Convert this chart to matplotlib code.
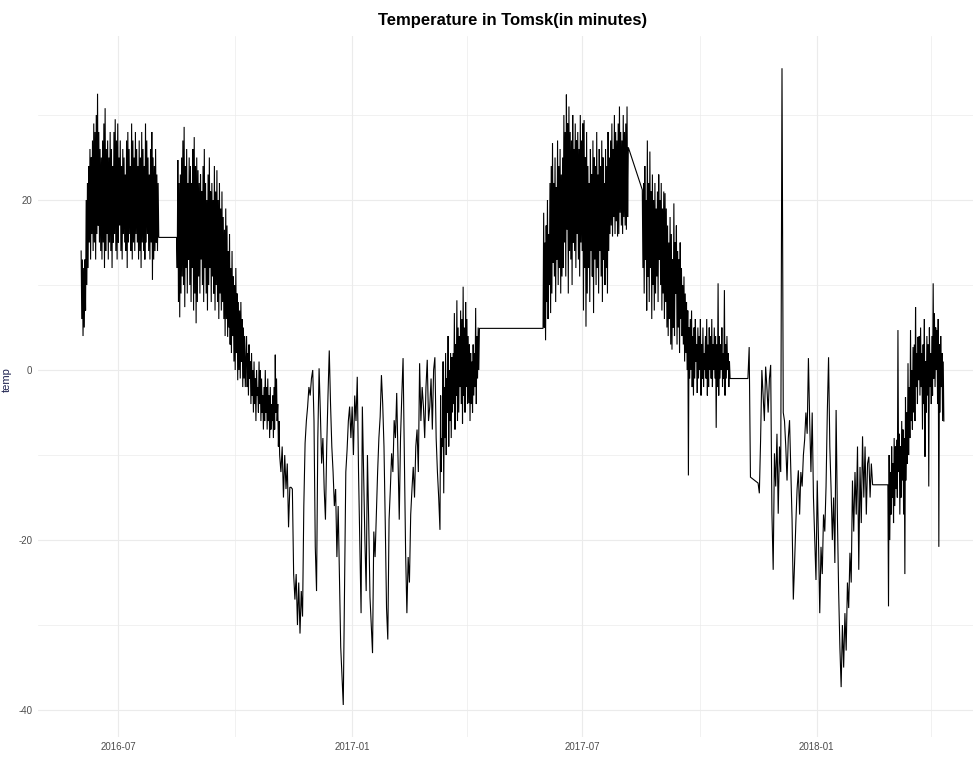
import numpy as np
import matplotlib
matplotlib.use("Agg")
import matplotlib.pyplot as plt
import matplotlib.dates as mdates

# ---- data ----
# dense periods: daily maximum / minimum readings
summer16_a_span = ("2016-06-02", "2016-08-02")
summer16_a_max = [14, 13, 12, 13, 20, 22, 24, 26, 25, 27, 29, 28, 30, 32.5, 28, 26,
                  25, 27, 29, 30.8, 26, 27, 25, 28, 26, 24, 28, 29.5, 27, 29, 25, 27, 24, 26,
                  25, 23, 27, 28, 26, 24, 29, 27, 25, 28, 26, 24, 27, 25, 28, 26, 24, 29, 27,
                  25, 23, 26, 28, 25, 24, 26, 23, 22]
summer16_a_min = [6, 4, 5, 7, 10, 12, 15, 13, 16, 14, 15, 13, 16, 17, 15, 14,
                  13, 15, 12, 14, 16, 13, 15, 14, 12, 15, 16, 14, 13, 15, 17, 14, 13, 16, 15,
                  14, 12, 15, 16, 14, 13, 15, 14, 16, 15, 13, 14, 12, 15, 14, 13, 15, 16, 14,
                  13, 15, 10.6, 13, 14, 15, 14, 15.6]

summer16_b_span = ("2016-08-16", "2016-10-09")
summer16_b_max = [15.6, 24.7, 22, 23, 25, 27, 28.6, 24, 26, 22, 25, 24, 22, 26, 27.4, 24, 25,
                  23.5, 22, 23, 21, 24, 26, 22, 20, 23, 25, 21, 22, 20, 24, 21, 23.5, 20, 22,
                  19, 21, 18, 16.5, 19, 17, 14, 16, 12, 14, 11, 10, 12, 9, 8, 7, 8, 6, 5, 4]
summer16_b_min = [12, 8, 6.2, 9, 11, 10, 7.4, 12, 9, 13, 10, 8, 12, 7, 9, 5.5, 8, 11, 9, 13,
                  10, 8, 12, 9, 7, 10, 12, 8, 11, 9, 7, 10, 8, 6, 9, 7, 8, 6, 4, 6, 3.9, 5, 3,
                  2, 4, 1, 0, 2, -1.2, 0, -1, 1, -2, -1, -2]

oct16_span = ("2016-10-10", "2016-11-05")
oct16_max = [4, 2, 3, 1, 2, 0, 1, -1, 0, -2, 1, 0, -1, -3, -2, 0, -2, -1, -3, -2,
             -4, -3, -2, 1.8, -1, -4, -6]
oct16_min = [-2, -3, -1, -4, -3, -5, -4, -6, -3, -5, -4, -6, -5, -7, -6, -5, -7, -6, -8, -7,
             -6, -8, -7, -5, -6, -9, -10]

# winter 2016/17: one reading per day
winter16_span = ("2016-11-06", "2017-03-10")
winter16_nov = [-12, -9, -15, -10, -14, -11, -18.5, -13.8, -13.8, -14, -24, -27, -24, -30, -25,
                -31, -26, -29]
winter16_dec = [-16, -8.6, -6, -4.3, -2, -3, -1, 0, -6, -20.8, -26, -8, 0.2, -5, -11, -8, -14,
                -17.6, -9, -3, 2.3, -4, -9, -12, -16, -14, -22, -16, -24, -32.6, -36, -39.4,
                -26, -12, -9.4, -6, -4.3, -8, -4.3]
winter16_jan = [-10, -3, -6, -0.8, -12, -20, -28.6, -4.3, -12, -20, -26, -10, -18, -26.7, -30,
                -33.3, -19, -22, -17, -12, -8, -5.5, -0.6, -4, -9, -18, -28, -31.7, -17.6, -14,
                -9.8, -12, -5.9, -8, -2.7, -10, -17.6, -8, -3, 1.4, -10]
winter16_feb = [-21.5, -28.6, -22, -25, -17, -14, -11.4, -15, -9, -7, -12, 0.8, -6, -2, -4.3,
                -8, -2, 1.2, -6, -4.3, -1, -7, 0, 1.5, -8, -12, -15]

spring17_span = ("2017-03-11", "2017-04-11")
spring17_min = [-18.8, -12, -9, -14.5, -8, -10, -5, -9, -6, -8, -5, -4, -7, -3, -6, -5,
                -2, -4, -6.3, -3, -5, -2, -4, -3.9, -6, -4, -5, -3, -2, -4, -1, 0]
spring17_max = [-3, -8, 1, -2, 2, -1, 4, 0, 2, 1.5, 2, 6.7, 3, 8.2, 5, 4,
                7, 6, 9.8, 5, 8, 6, 4, 3, 2, 1, 3, 2, 7.3, 4, 5, 4.9]

summer17_span = ("2017-05-31", "2017-08-06")
summer17_min = [4.9, 5, 3.5, 8, 6, 10, 6.7, 9, 12.6, 11, 8, 13, 10, 12, 9, 11,
                12, 15, 11, 16.5, 9, 14, 13, 10, 15, 14, 12, 16, 13, 11, 15, 14,
                7, 12, 5.1, 9, 12, 8, 14, 11, 6.7, 13, 10, 12, 9, 14, 11, 8, 13, 10, 12, 9, 14,
                16, 17, 15.7, 18, 16, 17.5, 15.7, 16, 18.5, 17, 16, 18, 17, 16.5, 18]
summer17_max = [18.5, 15, 17, 20, 16, 22, 24, 26.7, 22, 25, 21.5, 27, 24, 26, 23, 25,
                30, 28, 32.4, 29, 31, 28, 27, 30, 26, 29, 27, 28, 26, 30, 27, 29,
                29.4, 25, 28, 24, 22, 26, 23, 27, 25, 24, 28, 23, 26, 24, 27, 25, 22, 26, 24,
                28, 25, 27, 29, 26, 30, 28, 27, 29, 31, 28, 27, 30, 28, 29, 31, 26.2]

autumn17_span = ("2017-08-17", "2017-10-25")
autumn17_max = [21.2, 22, 24, 20, 27, 22, 25.7, 21, 23, 20, 22, 19, 21, 23, 20, 22, 19, 21,
                20.8, 19, 17, 15, 18, 16, 13, 19.6, 15, 17, 14, 13, 15, 12, 10, 11, 9,
                8, 7, 5, 6, 7, 4, 5, 6, 3, 5, 4, 6, 3, 5, 2, 4, 6, 3, 5, 4, 6, 3, 5, 4, 3,
                10.2, 4, 3, 5, 2, 9.4, 3, 4, 2, 1]
autumn17_min = [12, 9, 13, 7, 11, 8, 12, 6, 10, 7, 9, 11, 8, 13, 10, 7, 9, 6, 8, 5,
                4, 6, 3, 2.4, 5, 4, 9, 3, 5, 2, 6, 4, 3, 1, 2,
                0, -12.4, -1, 0, -2, -3, -1, 1, -2.7, -1, 0, -3, -1, -2, 0, -1, -3, -2, 0,
                -1, -2, 0, -1, -6.8, -2, -3, -1, 0, -2, -1, -3, -1, 0, -2, -1]

# winter 2017/18: one reading per day
nov17_span = ("2017-11-08", "2017-11-10")
nov17 = [-1, 2.7, -12.6]

winter17_span = ("2017-11-16", "2018-02-14")
winter17 = [-13.3, -14.5, -8.2, 0, -3, -6, 0.4, -2, -5, -1, 0.6, -16.9, -23.5, -9.8, -13.7, -7.5,
            -16.9, -9, -12, 35.5, -5, -6, -9, -13, -8, -5.9, -12, -17.6, -27, -22.7, -18, -14,
            -11.8, -17, -12, -13.7, -10, -8.2, -5, -7.5, 1.4, -6, -12, -5, -15, -20, -24.7, -13,
            -20, -28.6, -20.8, -24, -17, -19, -13.7, -5, 1.5, -9, -14, -20, -15, -22.7, -4.7,
            -17, -26, -32.6, -37.3, -30, -35, -28.6, -33, -25, -28, -21.5, -25, -13, -19, -12,
            -17, -9, -23.5, -11.4, -18, -7.8, -15, -9, -17, -11, -10.2, -15, -11, -13.5]

spring18_span = ("2018-02-26", "2018-04-11")
spring18_max = [-13.5, -10, -12, -9, -11, -8, -9, -8.2, 4.7, -7.5, -9, -6, -7, -8, -3.2, -5,
                0.8, -2, 4.7, 0, 2.7, 3, 7.4, 2, 3.9, 4, 5, 2, 3, 6, 1, 4, 3, 5, 2, 4, 10.2,
                6.7, 5, 4.7, 6, 3, 4, 2, 1]
spring18_min = [-27.8, -20, -17, -15, -18, -16, -14, -15, -12, -17, -15, -13, -17, -24, -13,
                -11, -10, -8, -6, -7, -5, -6, -2, -4, -1.2, -3, -2, -7, -4, -10.2, -5, -3,
                -13.7, -2, -4, -3, -1, -2, 0, -4, -20.8, -5, -2, -6, -6]


def interleave(first, second):
    out = np.empty(2 * len(first))
    out[0::2] = first
    out[1::2] = second
    return out


segments = [
    (summer16_a_span, interleave(summer16_a_max, summer16_a_min)),
    (summer16_b_span, interleave(summer16_b_max, summer16_b_min)),
    (oct16_span, interleave(oct16_max, oct16_min)),
    (winter16_span, winter16_nov + winter16_dec + winter16_jan + winter16_feb),
    (spring17_span, interleave(spring17_min, spring17_max)),
    (summer17_span, interleave(summer17_min, summer17_max)),
    (autumn17_span, interleave(autumn17_max, autumn17_min)),
    (nov17_span, nov17),
    (winter17_span, winter17),
    (spring18_span, interleave(spring18_max, spring18_min)),
]

times, temps = [], []
for (start, end), vals in segments:
    t0 = mdates.date2num(np.datetime64(start))
    t1 = mdates.date2num(np.datetime64(end))
    times.append(np.linspace(t0, t1, len(vals)))
    temps.append(np.asarray(vals, dtype=float))
times = np.concatenate(times)
temps = np.concatenate(temps)

# ---- figure ----
W, H = 973, 758
plt.rcParams['font.family'] = ['Liberation Sans', 'DejaVu Sans']
plt.rcParams['axes.unicode_minus'] = False
fig = plt.figure(figsize=(W / 100, H / 100), dpi=100)

ax = fig.add_axes([38 / W, (H - 736.8) / H, (987 - 38) / W, (736.8 - 36.4) / H])
ax.plot(times, temps, color='black', lw=0.8, solid_joinstyle='miter')

# ggplot-like 5% expansion
xr = times.max() - times.min()
yr = temps.max() - temps.min()
ax.set_xlim(times.min() - 0.05 * xr, times.max() + 0.05 * xr)
ax.set_ylim(temps.min() - 0.05 * yr, temps.max() + 0.05 * yr)

ax.xaxis.set_major_locator(mdates.MonthLocator(bymonth=[1, 7]))
ax.xaxis.set_minor_locator(mdates.MonthLocator(bymonth=[4, 10]))
ax.xaxis.set_major_formatter(mdates.DateFormatter('%Y-%m'))
ax.set_yticks([-40, -20, 0, 20])
ax.set_yticks([-30, -10, 10, 30], minor=True)

for s in ax.spines.values():
    s.set_visible(False)
ax.set_facecolor('white')
ax.grid(True, which='major', color='#EBEBEB', lw=0.8)
ax.grid(True, which='minor', color='#EBEBEB', lw=0.5)
ax.set_axisbelow(True)
ax.tick_params(which='both', length=0, labelsize=7, labelcolor='#4D4D4D', pad=4)

ax.set_title('Temperature in Tomsk(in minutes)', fontsize=12, fontweight='bold',
             color='black', pad=8)
ax.set_ylabel('temp', fontsize=8, color='#1f2350')
ax.yaxis.set_label_coords((12 - 38) / (987 - 38), 0.51)
ax.set_xlabel('time', fontsize=8, color='#1f2350', labelpad=4)

fig.savefig('out.png', dpi=100, facecolor='white')
